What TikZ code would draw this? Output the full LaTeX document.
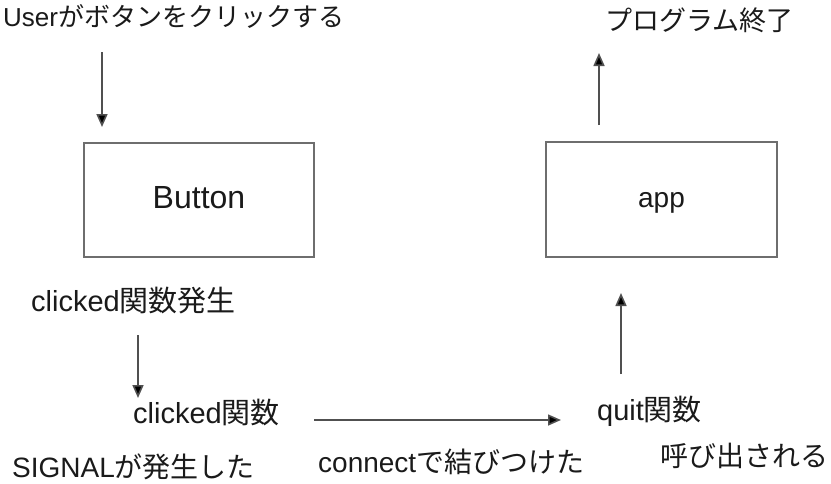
\documentclass[tikz,border=0pt]{standalone}
\usepackage{fontspec}
\setmainfont{Liberation Sans}
\newfontfamily\cjk{Noto Sans CJK JP}
\newcommand{\jp}[1]{{\cjk #1}}
\usetikzlibrary{arrows.meta}
\definecolor{txt}{HTML}{1A1A1A}
\definecolor{boxc}{HTML}{6E6E6E}
\definecolor{arrc}{HTML}{505050}
\begin{document}
\begin{tikzpicture}[x=1pt,y=-1pt,
  lbl/.style={anchor=base west, inner sep=0pt, text=txt},
  fs/.style={font=\fontsize{#1}{#1}\selectfont},
  box/.style={draw=boxc, line width=2pt, inner sep=0pt, text=txt},
  arr/.style={draw=arrc, line width=1.6pt, -{Triangle[length=13pt,width=11pt,fill=black]}}]
\useasboundingbox[fill=white] (0,0) rectangle (831,483);

% boxes
\node[box, minimum width=230pt, minimum height=114pt,
      label={[fs=32, text=txt, yshift=2pt]center:Button}] (button) at (199,200) {};
\node[box, minimum width=231pt, minimum height=115pt,
      label={[fs=28, text=txt, yshift=-3pt]center:app}] (app) at (661.5,199.5) {};

% labels
\node[lbl, fs=26] (user) at (3,26) {User\jp{がボタンをクリックする}};
\node[lbl, fs=27] (end) at (605,30) {\jp{プログラム終了}};
\node[lbl, fs=29] (clickgen) at (31,311) {clicked\jp{関数発生}};
\node[lbl, fs=29] (clickfn) at (133,423) {clicked\jp{関数}};
\node[lbl, fs=29] (quitfn) at (597,420) {quit\jp{関数}};
\node[lbl, fs=28] (signal) at (12,477) {SIGNAL\jp{が発生した}};
\node[lbl, fs=28] (connect) at (318,472) {connect\jp{で結びつけた}};
\node[lbl, fs=28] (called) at (660,466) {\jp{呼び出される}};

% arrow end points
\coordinate (a1s) at (102,52);  \coordinate (a1e) at (102,127);
\coordinate (a2s) at (599,125); \coordinate (a2e) at (599,53);
\coordinate (a3s) at (138,335); \coordinate (a3e) at (138,398);
\coordinate (a4s) at (314,420); \coordinate (a4e) at (561,420);
\coordinate (a5s) at (621,374); \coordinate (a5e) at (621,293);

\draw[arr] (a1s) -- (a1e);
\draw[arr] (a2s) -- (a2e);
\draw[arr] (a3s) -- (a3e);
\draw[arr] (a4s) -- (a4e);
\draw[arr] (a5s) -- (a5e);
\end{tikzpicture}
\end{document}
